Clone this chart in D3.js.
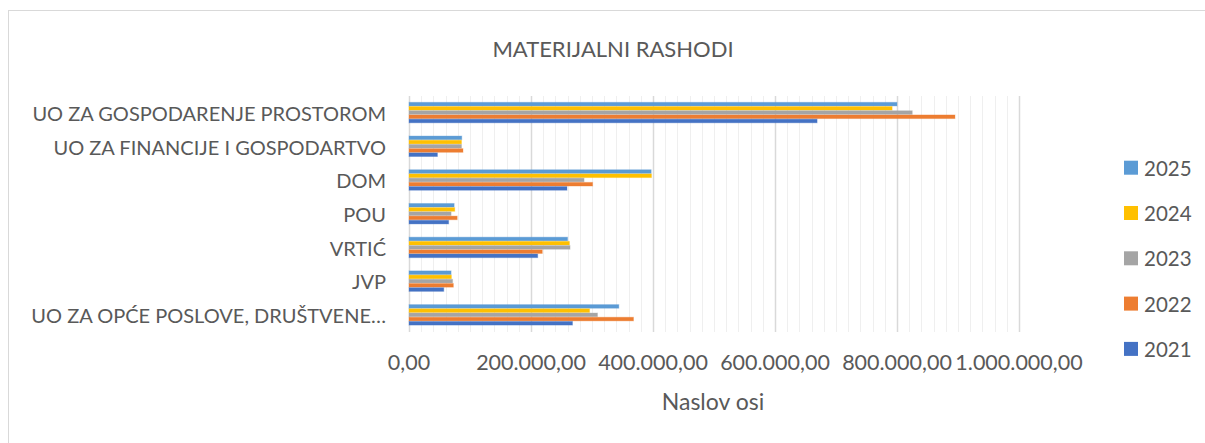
<!DOCTYPE html>
<html>
<head>
<meta charset="utf-8">
<title>Materijalni rashodi</title>
<script src="https://d3js.org/d3.v7.min.js"></script>
<style>
    body { margin: 0; background: #fff; }
    text { font-family: Lato, "Open Sans", sans-serif; fill: #595959; }
    .grid-minor line { stroke: #efefef; }
    .grid-major line { stroke: #d9d9d9; }
</style>
</head>
<body>
<svg width="1205" height="443"></svg>
<script>

    // categories, top to bottom as in the chart
    var categories = ["UO ZA GOSPODARENJE PROSTOROM", "UO ZA FINANCIJE I GOSPODARTVO", "DOM",
        "POU", "VRTIĆ", "JVP", "UO ZA OPĆE POSLOVE, DRUŠTVENE…"];

    var years = ["2025", "2024", "2023", "2022", "2021"];
    var colors = ["#5B9BD5", "#FFC000", "#A5A5A5", "#ED7D31", "#4472C4"];

    var v2025 = [800000, 86500, 397000, 74000, 260000, 69000, 344000];
    var v2024 = [792000, 86000, 397500, 75000, 263000, 69500, 296000];
    var v2023 = [825000, 86000, 287000, 69000, 264000, 71500, 309000];
    var v2022 = [895000, 88500, 301000, 79000, 218500, 72700, 368000];
    var v2021 = [669000, 46600, 259000, 65000, 211000, 57000, 268000];

    var series = [v2025, v2024, v2023, v2022, v2021];
    var xTicks = [0, 200000, 400000, 600000, 800000, 1000000];

    var svg = d3.select("svg");

    var x = d3.scaleLinear().domain([0, 1000000]).range([409, 1019]);
    var y = d3.scaleBand().domain(categories).range([96, 332])
        .paddingInner(0.375).paddingOuter(0.1875);
    var yInner = d3.scaleBand().domain(years).range([0, y.bandwidth()]);

    // chart border
    svg.append("rect")
        .attr("x", 8.5).attr("y", 10.5)
        .attr("width", 1210).attr("height", 440)
        .attr("fill", "none").attr("stroke", "#d9d9d9");

    // title
    svg.append("text")
        .attr("x", 613).attr("y", 48)
        .attr("text-anchor", "middle").attr("dominant-baseline", "central")
        .style("font-size", "22px")
        .text("MATERIJALNI RASHODI");

    // gridlines
    svg.append("g").attr("class", "grid-minor")
        .selectAll("line")
        .data(d3.range(0, 1000001, 20000))
        .enter().append("line")
        .attr("x1", function(d) { return Math.round(x(d)) + 0.5; })
        .attr("x2", function(d) { return Math.round(x(d)) + 0.5; })
        .attr("y1", 96).attr("y2", 332);

    svg.append("g").attr("class", "grid-major")
        .selectAll("line")
        .data(xTicks)
        .enter().append("line")
        .attr("x1", function(d) { return Math.round(x(d)) + 0.5; })
        .attr("x2", function(d) { return Math.round(x(d)) + 0.5; })
        .attr("y1", 96).attr("y2", 332)
        .style("stroke-width", 1.5);

    // bars
    var groups = svg.append("g")
        .selectAll("g")
        .data(series)
        .enter().append("g")
        .attr("fill", function(d, i) { return colors[i]; })
        .attr("stroke", function(d, i) { return colors[i]; })
        .attr("stroke-opacity", 0.35);

    groups.selectAll("rect")
        .data(function(d, i) {
            return d.map(function(v, j) { return {year: years[i], cat: categories[j], value: v}; });
        })
        .enter().append("rect")
        .attr("x", x(0))
        .attr("y", function(d) { return y(d.cat) + yInner(d.year); })
        .attr("width", function(d) { return x(d.value) - x(0); })
        .attr("height", yInner.bandwidth() - 0.6);

    // category labels
    svg.append("g")
        .selectAll("text")
        .data(categories)
        .enter().append("text")
        .attr("x", 386)
        .attr("y", function(d) { return y(d) + y.bandwidth() / 2; })
        .attr("text-anchor", "end").attr("dominant-baseline", "central")
        .style("font-size", "20px")
        .text(function(d) { return d; });

    // x tick labels (hr format: 1.000.000,00)
    var fmt = function(d) {
        return d3.format(",.2f")(d).replace(/,/g, "#").replace(".", ",").replace(/#/g, ".");
    };
    svg.append("g")
        .selectAll("text")
        .data(xTicks)
        .enter().append("text")
        .attr("x", function(d) { return x(d); })
        .attr("y", 362)
        .attr("text-anchor", "middle").attr("dominant-baseline", "central")
        .style("font-size", "21.5px")
        .text(fmt);

    // axis title
    svg.append("text")
        .attr("x", 713).attr("y", 401)
        .attr("text-anchor", "middle").attr("dominant-baseline", "central")
        .style("font-size", "23px")
        .text("Naslov osi");

    // legend
    var legend = svg.append("g")
        .selectAll("g")
        .data(years)
        .enter().append("g")
        .attr("transform", function(d, i) { return "translate(1124," + (167.7 + i * 45.3) + ")"; });

    legend.append("rect")
        .attr("x", 0).attr("y", -7)
        .attr("width", 14).attr("height", 14)
        .attr("fill", function(d, i) { return colors[i]; });

    legend.append("text")
        .attr("x", 20).attr("y", 0)
        .attr("dominant-baseline", "central")
        .style("font-size", "20.5px")
        .text(function(d) { return d; });

</script>
</body>
</html>
